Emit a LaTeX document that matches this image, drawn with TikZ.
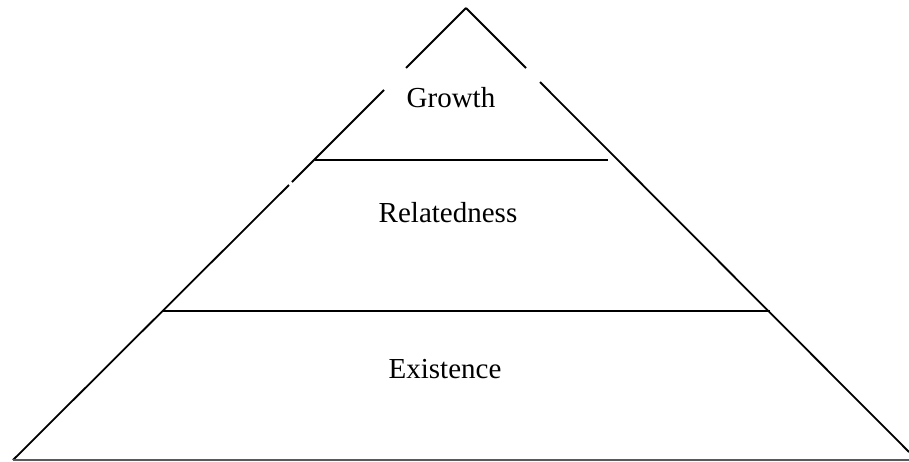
\documentclass[tikz,border=0pt]{standalone}
\usepackage{fontspec}
\setmainfont{Liberation Serif}
\begin{document}
\begin{tikzpicture}[x=1pt,y=-1pt,
  edge/.style={draw=black, line width=1.8pt},
  baseline/.style={draw=black!65, line width=2pt},
  lbl/.style={font=\fontsize{29}{34}\selectfont, anchor=base, inner sep=0pt}]
\useasboundingbox (0,0) rectangle (909,461);
\coordinate (apex) at (466,8);
\coordinate (bl) at (13,460);
\coordinate (br) at (909,460);
\coordinate (l1) at (406,68);
\coordinate (l2) at (384,90);
\coordinate (l3) at (292,182);
\coordinate (l4) at (289,185);
\coordinate (r1) at (526,68);
\coordinate (r2) at (540,82);
\coordinate (r3) at (909,452);
\coordinate (g1) at (315,160);
\coordinate (g2) at (608,160);
\coordinate (e1) at (163,311);
\coordinate (e2) at (770,311);
% left side with gaps
\draw[edge] (apex) -- (l1);
\draw[edge] (l2) -- (l3);
\draw[edge] (l4) -- (bl);
% right side with gap
\draw[edge] (apex) -- (r1);
\draw[edge] (r2) -- (r3);
% level lines
\draw[edge] (g1) -- (g2);
\draw[edge] (e1) -- (e2);
\draw[baseline] (bl) -- (br);
% labels
\node[lbl] (growth) at (451,107) {Growth};
\node[lbl] (relatedness) at (448,222) {Relatedness};
\node[lbl] (existence) at (445,378) {Existence};
\end{tikzpicture}
\end{document}
